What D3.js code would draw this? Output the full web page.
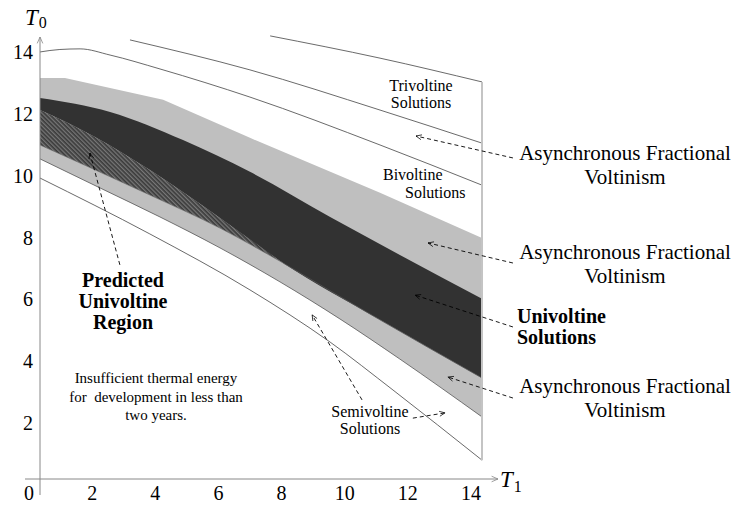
<!DOCTYPE html>
<html><head><meta charset="utf-8">
<script src="https://cdn.jsdelivr.net/npm/d3@7/dist/d3.min.js"></script>
<style>html,body{margin:0;padding:0;background:#fff;}svg{display:block;font-family:"Liberation Serif","Times New Roman",serif;}</style>
</head><body>
<svg id="c" width="733" height="507"></svg>
<script>
// ---- data (T1, T0) ----
const xTicks = [0, 2, 4, 6, 8, 10, 12, 14];
const yTicks = [2, 4, 6, 8, 10, 12, 14];
const upperBandTop = [[0,12.98],[0.79,12.98],[3.90,12.27],[6.65,11.04],[10.77,9.26],[14,7.80]];
const darkTop = [[0,12.33],[2.22,11.88],[4.53,10.97],[6.65,9.94],[9.19,8.48],[11.40,7.25],[14,5.83]];
const darkBottom = [[0,11.94],[1.74,11.07],[3.48,10.0],[5.70,8.45],[7.70,6.99],[10.77,5.15],[14,3.27]];
const hatchTop = [[0,11.94],[1.74,11.07],[3.48,10.0],[5.70,8.45],[7.70,6.99]];
const hatchBottom = [[0,10.81],[3.48,9.19],[5.70,8.12],[7.70,6.99]];
const lowerBandBottom = [[0,10.36],[1.90,9.42],[3.80,8.48],[5.70,7.48],[7.60,6.38],[9.50,5.18],[11.40,3.88],[14,2.01]];
const line1 = [[7.29,14.34],[10.77,13.62],[14,12.85]];
const line2 = [[2.85,14.21],[6.65,13.24],[10.77,11.94],[14,10.87]];
const line3 = [[0,13.82],[0.63,13.90],[1.27,13.92],[2.22,13.72],[3.80,13.27],[6.65,12.36],[10.77,10.81],[14,9.51]];
const line5 = [[0,9.74],[3.48,7.93],[6.65,6.12],[9.19,4.43],[11.18,2.88],[14,0.61]];
const arrows = [
  [[14.98,10.39],[11.91,11.10]],
  [[14.98,6.99],[12.29,7.64]],
  [[14.98,4.92],[11.88,5.95]],
  [[14.98,2.62],[12.92,3.30]],
  [[10.20,2.56],[8.62,5.31]],
  [[11.81,1.97],[12.83,2.14]],
  [[2.53,6.93],[1.58,10.55]]
];

const svg = d3.select("#c");
const x = d3.scaleLinear().domain([0,14]).range([40,482]);
const y = d3.scaleLinear().domain([0,14]).range([479,479-14*30.9]);

const defs = svg.append("defs");
const pat = defs.append("pattern").attr("id","hatch").attr("patternUnits","userSpaceOnUse")
  .attr("width",3).attr("height",3).attr("patternTransform","rotate(-45)");
pat.append("rect").attr("width",3).attr("height",3).attr("fill","#3a3a3a");
pat.append("line").attr("x1",0.75).attr("y1",0).attr("x2",0.75).attr("y2",3).attr("stroke","#8c8c8c").attr("stroke-width",1);
const mk = defs.append("marker").attr("id","ah").attr("viewBox","0 0 10 10").attr("refX",9).attr("refY",5)
  .attr("markerWidth",7).attr("markerHeight",7).attr("markerUnits","userSpaceOnUse").attr("orient","auto");
mk.append("path").attr("d","M1,1.5 L9,5 L1,8.5").attr("fill","none").attr("stroke","#000").attr("stroke-width",1);
const mkA = defs.append("marker").attr("id","axh").attr("viewBox","0 0 10 10").attr("refX",9).attr("refY",5)
  .attr("markerWidth",8).attr("markerHeight",8).attr("markerUnits","userSpaceOnUse").attr("orient","auto");
mkA.append("path").attr("d","M1,1.5 L9,5 L1,8.5").attr("fill","none").attr("stroke","#888").attr("stroke-width",1);

const line = d3.line().x(d=>x(d[0])).y(d=>y(d[1])).curve(d3.curveMonotoneX);
const lineLin = d3.line().x(d=>x(d[0])).y(d=>y(d[1]));
function region(top, bottom, topGen){
  const a = (topGen||line)(top), b = line(bottom.slice().reverse());
  return a + "L" + b.slice(1) + "Z";
}

// light gray band
svg.append("path").attr("d", region(upperBandTop, lowerBandBottom, lineLin)).attr("fill","#bfbfbf");
// dark band
svg.append("path").attr("d", region(darkTop, darkBottom)).attr("fill","#323232");
// hatched predicted region
svg.append("path").attr("d", region(hatchTop, hatchBottom)).attr("fill","url(#hatch)");
// boundary strokes
svg.append("path").attr("d", line(lowerBandBottom)).attr("fill","none").attr("stroke","#555").attr("stroke-width",0.8);
svg.append("path").attr("d", line(darkBottom.slice(4))).attr("fill","none").attr("stroke","#555").attr("stroke-width",0.8);
svg.append("path").attr("d", line(hatchBottom)).attr("fill","none").attr("stroke","#666").attr("stroke-width",0.6);

// thin solution boundaries
[line1, line2, line3, line5].forEach(l=>{
  svg.append("path").attr("d", line(l)).attr("fill","none").attr("stroke","#444").attr("stroke-width",0.8);
});
// right edge
svg.append("line").attr("x1",x(14)).attr("x2",x(14)).attr("y1",y(12.85)).attr("y2",y(0.61))
  .attr("stroke","#c4c4c4").attr("stroke-width",2);

// axes
svg.append("line").attr("x1",x(0)).attr("x2",x(0)).attr("y1",495).attr("y2",37)
  .attr("stroke","#888").attr("stroke-width",1).attr("marker-end","url(#axh)");
svg.append("line").attr("x1",25).attr("x2",498).attr("y1",y(0)).attr("y2",y(0))
  .attr("stroke","#888").attr("stroke-width",1).attr("marker-end","url(#axh)");

svg.selectAll(".xt").data(xTicks).enter().append("text")
  .attr("x", d=>x(d)-11).attr("y", 500).attr("text-anchor","middle")
  .attr("font-size",20).text(d=>d);
svg.selectAll(".yt").data(yTicks).enter().append("text")
  .attr("x", 33).attr("y", d=>y(d)+12.7).attr("text-anchor","end")
  .attr("font-size",20).text(d=>d);

// axis titles
const t0 = svg.append("text").attr("x",25).attr("y",25).attr("font-size",23);
t0.append("tspan").attr("font-style","italic").text("T");
t0.append("tspan").attr("font-size",16).attr("dy",3).attr("dx",1).text("0");
const t1 = svg.append("text").attr("x",500).attr("y",487).attr("font-size",23);
t1.append("tspan").attr("font-style","italic").text("T");
t1.append("tspan").attr("font-size",16).attr("dy",5).attr("dx",1).text("1");

// arrows
arrows.forEach(a=>{
  svg.append("line").attr("x1",x(a[0][0])).attr("y1",y(a[0][1])).attr("x2",x(a[1][0])).attr("y2",y(a[1][1]))
    .attr("stroke","#000").attr("stroke-width",0.9).attr("stroke-dasharray","4,3").attr("marker-end","url(#ah)");
});

// annotations
function label(lines, px, py, size, anchor, bold, lh){
  const t = svg.append("text").attr("font-size",size).attr("text-anchor",anchor||"start")
    .attr("font-weight", bold?"bold":"normal").attr("fill","#000");
  lines.forEach((s,i)=>{
    t.append("tspan").attr("x", Array.isArray(px)?px[i]:px).attr("y", py + i*lh).text(s);
  });
}
label(["Trivoltine","Solutions"], 421, 91, 16, "middle", false, 17);
label(["Bivoltine","Solutions"], [383,405], 180, 16, "start", false, 18);
label(["Asynchronous Fractional","Voltinism"], 625, 160, 21, "middle", false, 24);
label(["Asynchronous Fractional","Voltinism"], 625, 259, 21, "middle", false, 24);
label(["Univoltine","Solutions"], 517, 323, 20, "start", true, 21);
label(["Asynchronous Fractional","Voltinism"], 625, 393, 21, "middle", false, 24);
label(["Predicted","Univoltine","Region"], 123, 287, 20, "middle", true, 21);
label(["Insufficient thermal energy","for\u00a0 development in less than","two years."], 156, 383, 15, "middle", false, 18.5);
label(["Semivoltine","Solutions"], 370, 417, 16, "middle", false, 17);
</script>
</body></html>
